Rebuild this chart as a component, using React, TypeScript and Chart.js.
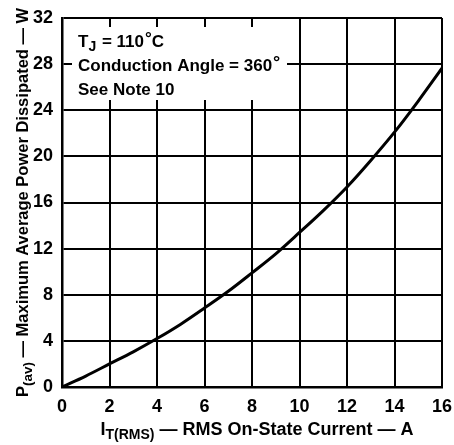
import { useEffect, useRef } from "react";
import { Chart, registerables } from "chart.js";

Chart.register(...registerables);

const currentA = [0, 1, 2, 3, 4, 5, 6, 7, 8, 9, 10, 11, 12, 13, 14, 15, 16];
const powerW = [0, 0.95, 2.0, 3.05, 4.2, 5.45, 6.85, 8.3, 9.9, 11.55, 13.4, 15.3, 17.35, 19.65, 22.1, 24.8, 27.65];
const xTickValues = [0, 2, 4, 6, 8, 10, 12, 14, 16];
const yTickValues = [0, 4, 8, 12, 16, 20, 24, 28, 32];

const noteLine1 = ["T", "J", " = 110", "°", "C"];
const noteLine2 = ["Conduction Angle = 360", "°"];
const noteLine3 = "See Note 10";
const yTitle = ["P", "(av)", " — Maximum Average Power Dissipated — W"];
const xTitle = ["I", "T(RMS)", " — RMS On-State Current — A"];

const FONT = '"Liberation Sans", Arial, Helvetica, sans-serif';

type Seg = { text: string; size: number; dy: number; gap?: number };

function segWidth(ctx: CanvasRenderingContext2D, segs: Seg[]) {
  let w = 0;
  for (const s of segs) {
    ctx.font = `bold ${s.size}px ${FONT}`;
    w += ctx.measureText(s.text).width + (s.gap || 0);
  }
  return w;
}

function drawSegs(ctx: CanvasRenderingContext2D, segs: Seg[], x: number, y: number) {
  let cx = x;
  for (const s of segs) {
    ctx.font = `bold ${s.size}px ${FONT}`;
    ctx.fillText(s.text, cx, y + s.dy);
    cx += ctx.measureText(s.text).width + (s.gap || 0);
  }
}

const overlayPlugin = {
  id: "overlay",
  beforeDatasetsDraw(chart: any) {
    const { ctx, chartArea } = chart;
    const { left, top } = chartArea;
    ctx.save();
    // white note box masking the grid
    ctx.fillStyle = "#fff";
    ctx.fillRect(left + 10, top + 9, 215, 73);
    ctx.fillStyle = "#000";
    ctx.textBaseline = "alphabetic";
    ctx.textAlign = "left";
    const line1: Seg[] = [
      { text: noteLine1[0], size: 17, dy: 0 },
      { text: noteLine1[1], size: 14, dy: 4, gap: 1 },
      { text: noteLine1[2], size: 17, dy: 0, gap: 1 },
      { text: noteLine1[3], size: 17, dy: -3 },
      { text: noteLine1[4], size: 17, dy: 0 },
    ];
    drawSegs(ctx, line1, left + 16, top + 29);
    drawSegs(
      ctx,
      [
        { text: noteLine2[0], size: 17, dy: 0, gap: 1 },
        { text: noteLine2[1], size: 18, dy: -3 },
      ],
      left + 16,
      top + 53
    );
    drawSegs(ctx, [{ text: noteLine3, size: 17, dy: 0 }], left + 16, top + 77);
    ctx.restore();
  },
  afterDraw(chart: any) {
    const { ctx, chartArea } = chart;
    const { left, top, right, bottom } = chartArea;
    ctx.save();
    ctx.fillStyle = "#000";
    ctx.textBaseline = "alphabetic";
    ctx.textAlign = "left";
    // y title rotated
    const ySegs: Seg[] = [
      { text: yTitle[0], size: 16.5, dy: 0 },
      { text: yTitle[1], size: 13.5, dy: 4 },
      { text: yTitle[2], size: 16.5, dy: 0 },
    ];
    const yw = segWidth(ctx, ySegs);
    ctx.save();
    ctx.translate(28, (top + bottom) / 2);
    ctx.rotate(-Math.PI / 2);
    drawSegs(ctx, ySegs, -yw / 2, 0);
    ctx.restore();
    // x title
    const xSegs: Seg[] = [
      { text: xTitle[0], size: 18, dy: 0 },
      { text: xTitle[1], size: 14, dy: 4 },
      { text: xTitle[2], size: 18, dy: 0 },
    ];
    const xw = segWidth(ctx, xSegs);
    drawSegs(ctx, xSegs, (left + right) / 2 + 5 - xw / 2, 435);
    ctx.restore();
  },
};

export default function App() {
  const canvasRef = useRef<HTMLCanvasElement | null>(null);

  useEffect(() => {
    if (!canvasRef.current) return;
    const chart = new Chart(canvasRef.current, {
      type: "line",
      data: {
        datasets: [
          {
            data: currentA.map((x, i) => ({ x, y: powerW[i] })),
            borderColor: "#000",
            borderWidth: 3,
            pointRadius: 0,
            cubicInterpolationMode: "monotone",
            fill: false,
          },
        ],
      },
      options: {
        animation: false,
        responsive: false,
        devicePixelRatio: 1,
        layout: { padding: { top: 18, right: 12, left: 0, bottom: 0 } },
        plugins: {
          legend: { display: false },
          tooltip: { enabled: false },
          title: { display: false },
        },
        scales: {
          x: {
            type: "linear",
            min: 0,
            max: 16,
            afterBuildTicks: (s: any) => {
              s.ticks = xTickValues.map((v) => ({ value: v }));
            },
            afterFit: (s: any) => {
              s.height = 58;
              s.paddingLeft = 0;
              s.paddingRight = 0;
            },
            grid: { color: "#000", lineWidth: 2, drawTicks: false },
            border: { color: "#000", width: 2.5 },
            ticks: {
              color: "#000",
              padding: 9,
              maxRotation: 0,
              font: { family: FONT, size: 18, weight: "bold" },
            },
          },
          y: {
            type: "linear",
            min: 0,
            max: 32,
            afterBuildTicks: (s: any) => {
              s.ticks = yTickValues.map((v) => ({ value: v }));
            },
            afterFit: (s: any) => {
              s.width = 62;
              s.paddingTop = 0;
              s.paddingBottom = 0;
            },
            grid: { color: "#000", lineWidth: 2, drawTicks: false },
            border: { color: "#000", width: 2.5 },
            ticks: {
              color: "#000",
              padding: 9,
              font: { family: FONT, size: 18, weight: "bold" },
            },
          },
        },
      } as any,
      plugins: [overlayPlugin],
    });
    return () => chart.destroy();
  }, []);

  return (
    <div style={{ position: "absolute", left: 0, top: 0, width: 454, height: 445, background: "#fff" }}>
      <canvas ref={canvasRef} width={454} height={445} style={{ width: 454, height: 445 }} />
    </div>
  );
}
